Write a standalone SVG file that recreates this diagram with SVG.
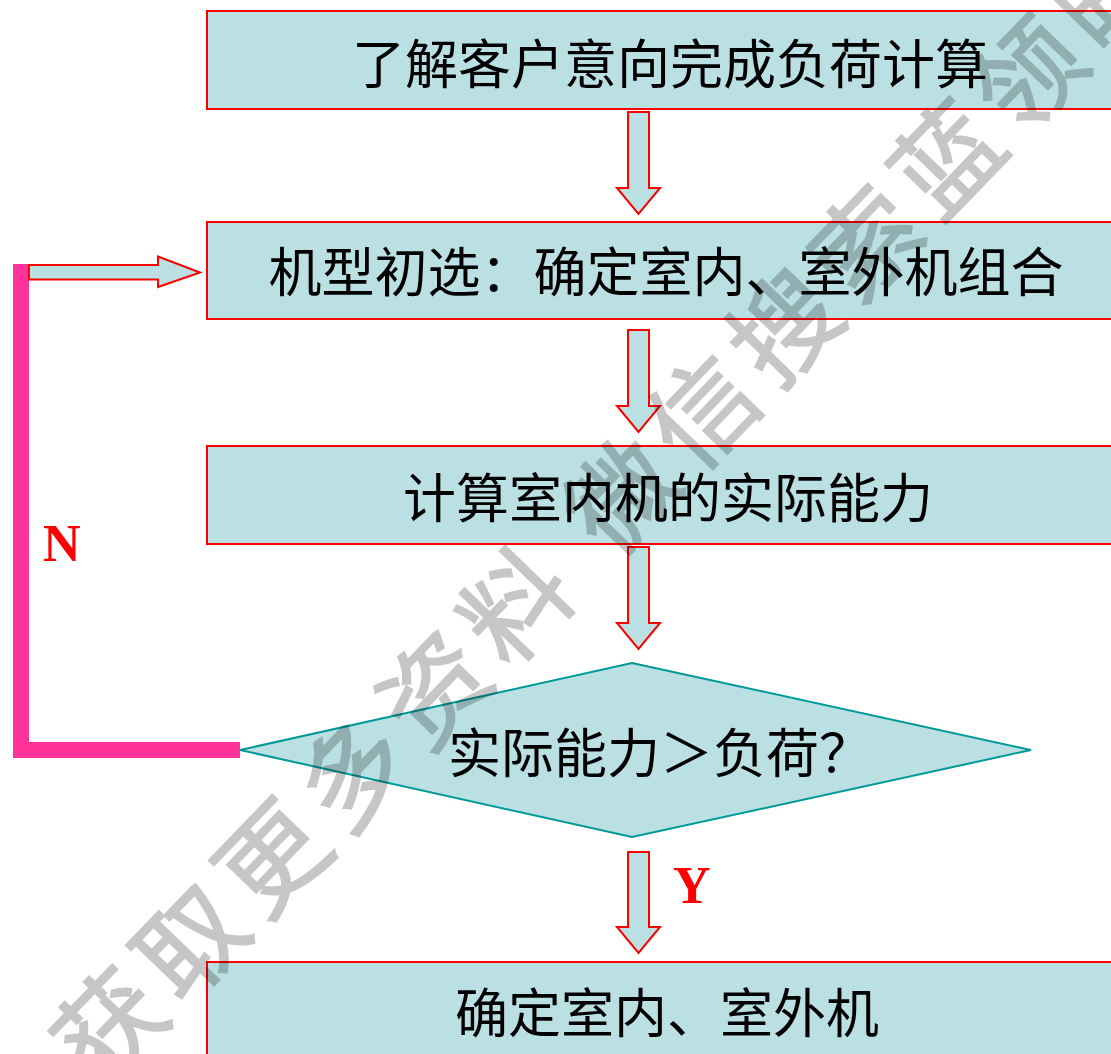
<svg xmlns="http://www.w3.org/2000/svg" width="1111" height="1054" viewBox="0 0 1111 1054">
<style>
.box{fill:#BBE0E3;stroke:#FF0000;stroke-width:2}
.dia{fill:#BBE0E3;stroke:#009999;stroke-width:2}
.arr{fill:#BBE0E3;stroke:#FF0000;stroke-width:2;stroke-linejoin:miter}
.t{font-family:"Noto Sans CJK SC","Noto Sans CJK TC",sans-serif;font-size:53px;fill:#000;text-anchor:middle}
.lbl{font-family:"Liberation Serif","Times New Roman",serif;font-weight:bold;font-size:52px;fill:#FF0000}
.wm{font-family:"Noto Sans CJK SC",sans-serif;font-size:105px;letter-spacing:12px;fill:#000;stroke:#000;stroke-width:2}
</style>
<rect width="1111" height="1054" fill="#FFFFFF"/>
<g id="node-1">
<rect class="box" x="207" y="11" width="1000" height="98"/>
<text class="t" x="670" y="84">了解客户意向完成负荷计算</text>
</g>
<g id="node-2">
<rect class="box" x="207" y="222" width="1000" height="97"/>
<text class="t" x="666" y="292">机型初选：确定室内、室外机组合</text>
</g>
<g id="node-3">
<rect class="box" x="207" y="446" width="1000" height="98"/>
<text class="t" x="668" y="518">计算室内机的实际能力</text>
</g>
<g id="node-4">
<polygon class="dia" points="632,663 1031,750 632,837 240,750"/>
<text class="t" x="660" y="773">实际能力＞负荷？</text>
</g>
<g id="node-5">
<rect class="box" x="207" y="962" width="1000" height="120"/>
<text class="t" x="667" y="1033">确定室内、室外机</text>
</g>
<g id="connectors">
<polygon class="arr" points="628,112 649,112 649,188 660,188 638.5,214 617,188 628,188"/>
<polygon class="arr" points="628,330 649,330 649,406 660,406 638.5,432 617,406 628,406"/>
<polygon class="arr" points="628,547 649,547 649,623 660,623 638.5,649 617,623 628,623"/>
<polygon class="arr" points="628,852 649,852 649,927 660,927 638.5,953 617,927 628,927"/>
<polyline points="240,750 21,750 21,264" fill="none" stroke="#FF3399" stroke-width="16" stroke-linejoin="miter"/>
<polygon class="arr" points="29,265 158,265 158,256.5 200,272.5 158,287 158,279.5 29,279.5"/>
<text class="lbl" x="43" y="561">N</text>
<text class="lbl" x="673" y="903">Y</text>
</g>
<g id="watermark" opacity="0.22">
<text class="wm" x="101" y="1091" transform="rotate(-46 101 1091)">获取更多资料 微信搜索蓝领暖</text>
</g>
</svg>
